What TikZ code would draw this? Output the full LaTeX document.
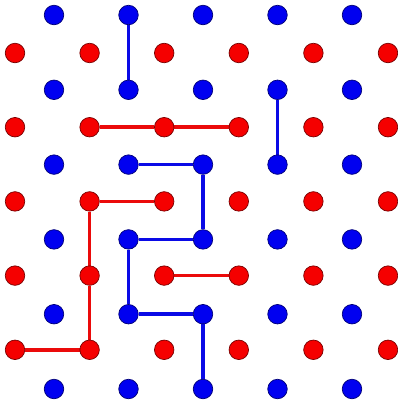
\documentclass[tikz,border=0pt]{standalone}
\usetikzlibrary{backgrounds}
\definecolor{bfill}{RGB}{0,0,240}
\definecolor{bline}{RGB}{0,0,120}
\definecolor{rfill}{RGB}{245,0,0}
\definecolor{rline}{RGB}{120,0,0}
\definecolor{bedge}{RGB}{10,10,230}
\definecolor{redge}{RGB}{235,10,10}
\tikzset{
  bdot/.style={circle,fill=bfill,draw=bline,line width=0.7pt,inner sep=0pt,minimum size=19.5pt},
  rdot/.style={circle,fill=rfill,draw=rline,line width=0.7pt,inner sep=0pt,minimum size=19.5pt},
  bcon/.style={draw=bedge,line width=3.6pt},
  rcon/.style={draw=redge,line width=3.6pt}
}
\begin{document}
\begin{tikzpicture}[x=1pt,y=-1pt]
\useasboundingbox (0,0) rectangle (398,400);
\foreach \i in {0,...,4}{\foreach \j in {0,...,5}{
  \node[bdot] (b\i\j) at ({54+74.5*\i},{15+74.8*\j}) {};
}}
\foreach \i in {0,...,5}{\foreach \j in {0,...,4}{
  \node[rdot] (r\i\j) at ({15+74.6*\i},{53+74.2*\j}) {};
}}
\begin{pgfonlayer}{background}
\draw[bcon] (b10) -- (b11);
\draw[bcon] (b31) -- (b32);
\draw[bcon] (b12) -- (b22);
\draw[bcon] (b22) -- (b23);
\draw[bcon] (b13) -- (b23);
\draw[bcon] (b13) -- (b14);
\draw[bcon] (b14) -- (b24);
\draw[bcon] (b24) -- (b25);
\draw[rcon] (r11) -- (r21);
\draw[rcon] (r21) -- (r31);
\draw[rcon] (r12) -- (r22);
\draw[rcon] (r12) -- (r13);
\draw[rcon] (r13) -- (r14);
\draw[rcon] (r04) -- (r14);
\draw[rcon] (r23) -- (r33);
\end{pgfonlayer}
\end{tikzpicture}
\end{document}
